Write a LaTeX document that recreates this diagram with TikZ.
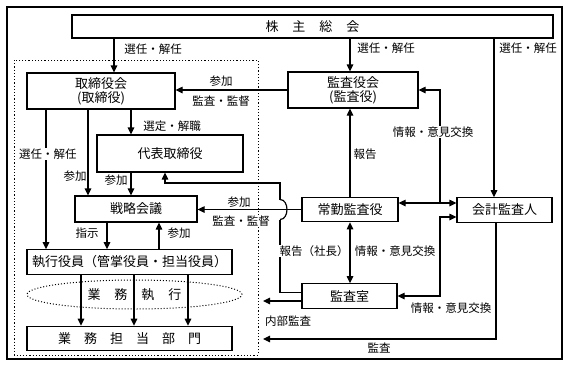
\documentclass[tikz,border=0pt]{standalone}
\usepackage{fontspec}
\setmainfont{Noto Sans CJK JP}
\usetikzlibrary{arrows.meta,shapes.geometric}
\tikzstyle{every path}=[line width=1.2pt]
\tikzstyle{blk}=[draw,rectangle,inner sep=0pt,align=center,font=\fontsize{13}{14}\selectfont]
\tikzstyle{lbl}=[fill=white,inner sep=0.5pt,font=\fontsize{11.5}{13}\selectfont]
\tikzstyle{arr}=[-{Triangle[length=7pt,width=6.5pt]}]
\tikzstyle{dbl}=[{Triangle[length=7pt,width=6.5pt]}-{Triangle[length=7pt,width=6.5pt]}]

\begin{document}
\begin{tikzpicture}[x=1pt,y=-1pt]
%Corporate governance chart
	\newcommand\rowh{24.5pt} %height of the one-line boxes
	\fill[white] (0,0) rectangle (570,368);
	\useasboundingbox (0,0) rectangle (570,368);
	\draw[line width=1.5pt] (7,7) rectangle (562,359); %% outer frame
	\draw[dotted,line width=1pt] (14,60) rectangle (258,355); %% company side
	%BOXES
	\node[blk,minimum width=481pt,minimum height=23pt] (kabu) at (312.5,26.5) {株\hspace{14pt}主\hspace{14pt}総\hspace{14pt}会};
	\node[blk,minimum width=148pt,minimum height=36pt] (tori) at (101,91) {取締役会\\(取締役)};
	\node[blk,minimum width=130pt,minimum height=36pt] (kansayakukai) at (353,90) {監査役会\\(監査役)};
	\node[blk,minimum width=146pt,minimum height=37pt] (daihyo) at (170,153.5) {代表取締役};
	\node[blk,minimum width=122pt,minimum height=26pt] (senryaku) at (136,209) {戦略会議};
	\node[blk,minimum width=205pt,minimum height=\rowh] (shikko) at (129.5,262) {執行役員（管掌役員・担当役員）};
	\node[draw,dotted,ellipse,line width=1pt,minimum width=215pt,minimum height=29pt,inner sep=0pt,font=\fontsize{13}{14}\selectfont] (gyoshikko) at (134.5,294.5) {業\hspace{14pt}務\hspace{14pt}執\hspace{14pt}行};
	\node[blk,minimum width=205pt,minimum height=\rowh] (gyomu) at (129.5,338.5) {業\hspace{13pt}務\hspace{13pt}担\hspace{13pt}当\hspace{13pt}部\hspace{13pt}門};
	\node[blk,minimum width=96pt,minimum height=\rowh] (jokin) at (350,209.5) {常勤監査役};
	\node[blk,minimum width=95pt,minimum height=\rowh] (kansashitsu) at (349.5,296) {監査室};
	\node[blk,minimum width=95pt,minimum height=\rowh] (kaikei) at (504.5,210) {会計監査人};
	%helper points
	\coordinate (jx) at (440,203); %% junction of the exchange lines
	\coordinate (shiUp) at ([yshift=3.5pt]kansashitsu.west); %% report to president
	\coordinate (shiLo) at ([yshift=-5pt]kansashitsu.west); %% internal audit
	\coordinate (jokLo) at ([yshift=-10pt]jokin.west); %% where the jump starts
	\coordinate (jokHi) at ([yshift=10pt]jokin.west); %% where the jump ends
	%VERTICAL ARROWS
	\foreach \x/\from/\to in {114/kabu/tori,350/kabu/kansayakukai,494/kabu/kaikei,131/tori/daihyo,46/tori/shikko,88/tori/senryaku,131/daihyo/senryaku,107/senryaku/shikko,81/shikko/gyomu,134/shikko/gyomu,188/shikko/gyomu}
		\draw[arr] (\x,0 |- \from.south) -- (\x,0 |- \to.north);
	\draw[arr] (159,0 |- shikko.north) -- (159,0 |- senryaku.south);
	\draw[arr] (jokin.north) -- (jokin.north |- kansayakukai.south);
	\draw[dbl] (jokin.south) -- (jokin.south |- kansashitsu.north);
	%HORIZONTAL ARROWS
	\draw[arr] (kansayakukai.west) -- (kansayakukai.west -| tori.east);
	\draw[arr] (jokin.west) -- (jokin.west -| senryaku.east);
	\draw[dbl] (jokin.east |- jx) -- (kaikei.west |- jx);
	\draw[arr] (jx) |- (kansayakukai.east);
	\draw[dbl] (kansashitsu.east) -| (jx |- 0,217) -- (kaikei.west |- 0,217);
	\draw (shiUp) -- (280,0 |- shiUp) -- (280,0 |- jokLo); %% report line, up to the jump
	\draw (280,0 |- jokLo) .. controls +(9.3,0) and +(9.3,0) .. (280,0 |- jokHi); %% jump over the line to 戦略会議
	\draw[arr] (280,0 |- jokHi) -- (280,183) -| ([xshift=-5pt]daihyo.south);
	\draw[arr] (shiLo) -- (shiLo -| 263,0);
	\draw[arr] (496,0 |- kaikei.south) |- (263,339);
	%LABELS
	\node[lbl] (lSenA) at (153,49) {選任・解任};
	\node[lbl] (lSenB) at (386,48) {選任・解任};
	\node[lbl] (lSenC) at (528,48) {選任・解任};
	\node[lbl] (lSanD) at (221,81) {参加};
	\node[lbl] (lKanD) at (221,101) {監査・監督};
	\node[lbl] (lSentei) at (172,126) {選定・解職};
	\node[lbl] (lSenF) at (48,154) {選任・解任};
	\node[lbl] (lSanG) at (75,176) {参加};
	\node[lbl] (lSanH) at (116,180) {参加};
	\node[lbl] (lShiji) at (87,233) {指示};
	\node[lbl] (lSanJ) at (179,233) {参加};
	\node[lbl] (lSanL) at (239,202) {参加};
	\node[lbl] (lKanL) at (241,221) {監査・監督};
	\node[lbl] (lHokoku) at (365,154) {報告};
	\node[lbl] (lJohoQ) at (433,132) {情報・意見交換};
	\node[lbl] (lShacho) at (314,251) {報告（社長）};
	\node[lbl] (lJohoO) at (395,251) {情報・意見交換};
	\node[lbl] (lJohoR) at (451,308) {情報・意見交換};
	\node[lbl] (lNaibu) at (288,321) {内部監査};
	\node[lbl] (lKansa) at (379,348) {監査};
\end{tikzpicture}
\end{document}
